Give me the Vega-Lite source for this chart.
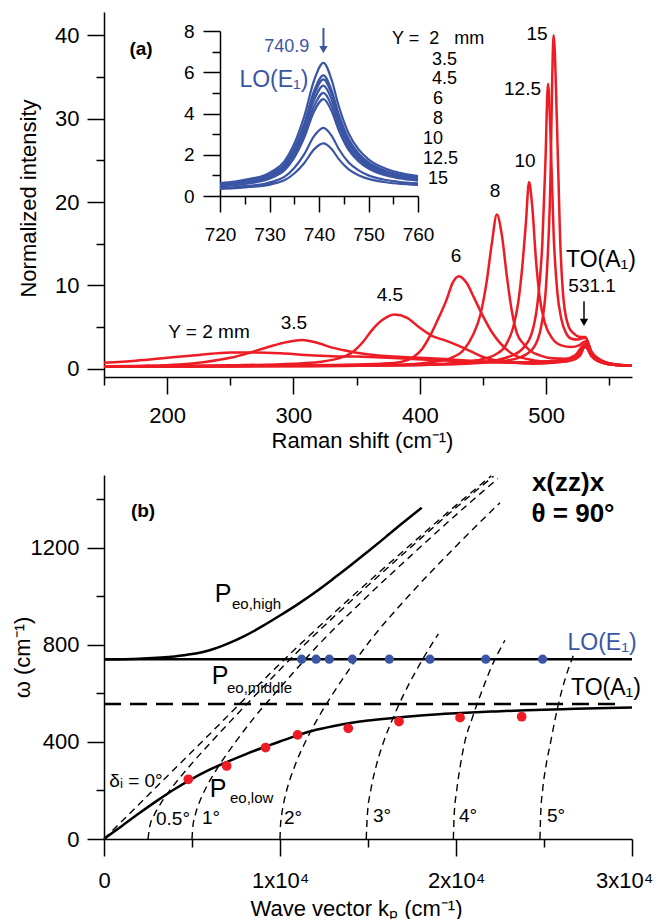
{
"$schema": "https://vega.github.io/schema/vega-lite/v6.json",
"padding": {"left": 11, "top": 12, "right": 0, "bottom": 0},
"spacing": 98,
"bounds": "flush",
"config": {
 "font": "Liberation Sans",
 "view": {"stroke": null},
 "axis": {"grid": false, "domainColor": "#000", "domainWidth": 1.5, "tickColor": "#000", "tickWidth": 1.5, "labelColor": "#000", "labelFont": "Liberation Sans", "labelFontSize": 22, "titleColor": "#000", "titleFont": "Liberation Sans", "titleFontSize": 22, "titleFontWeight": "normal", "labelOverlap": false, "labelFlush": false, "labelBound": false},
 "text": {"color": "#000"}
},
"datasets": {
 "red": [
  {"curve":"2","x":150,"y":0.7},{"curve":"2","x":175,"y":0.95},{"curve":"2","x":200,"y":1.3},{"curve":"2","x":225,"y":1.65},{"curve":"2","x":250,"y":1.95},{"curve":"2","x":270,"y":1.95},{"curve":"2","x":290,"y":1.85},{"curve":"2","x":310,"y":1.65},{"curve":"2","x":330,"y":1.5},{"curve":"2","x":350,"y":1.45},{"curve":"2","x":370,"y":1.35},{"curve":"2","x":390,"y":1.2},{"curve":"2","x":410,"y":1.05},{"curve":"2","x":430,"y":0.9},{"curve":"2","x":450,"y":0.8},{"curve":"2","x":470,"y":0.75},{"curve":"2","x":490,"y":0.8},{"curve":"2","x":510,"y":1.0},{"curve":"2","x":520,"y":1.3},{"curve":"2","x":526,"y":1.8},{"curve":"2","x":531,"y":2.6},{"curve":"2","x":536,"y":1.5},{"curve":"2","x":545,"y":0.8},{"curve":"2","x":555,"y":0.5},{"curve":"2","x":568,"y":0.4},
  {"curve":"3.5","x":150,"y":0.3},{"curve":"3.5","x":180,"y":0.35},{"curve":"3.5","x":210,"y":0.5},{"curve":"3.5","x":230,"y":0.8},{"curve":"3.5","x":250,"y":1.3},{"curve":"3.5","x":265,"y":1.9},{"curve":"3.5","x":280,"y":2.6},{"curve":"3.5","x":295,"y":3.2},{"curve":"3.5","x":307,"y":3.45},{"curve":"3.5","x":320,"y":3.05},{"curve":"3.5","x":330,"y":2.55},{"curve":"3.5","x":340,"y":2.2},{"curve":"3.5","x":350,"y":1.9},{"curve":"3.5","x":365,"y":1.6},{"curve":"3.5","x":380,"y":1.45},{"curve":"3.5","x":400,"y":1.3},{"curve":"3.5","x":420,"y":1.15},{"curve":"3.5","x":440,"y":0.95},{"curve":"3.5","x":460,"y":0.8},{"curve":"3.5","x":480,"y":0.7},{"curve":"3.5","x":500,"y":0.75},{"curve":"3.5","x":515,"y":0.9},{"curve":"3.5","x":524,"y":1.3},{"curve":"3.5","x":531,"y":2.7},{"curve":"3.5","x":537,"y":1.4},{"curve":"3.5","x":545,"y":0.7},{"curve":"3.5","x":555,"y":0.45},{"curve":"3.5","x":568,"y":0.35},
  {"curve":"4.5","x":150,"y":0.25},{"curve":"4.5","x":200,"y":0.3},{"curve":"4.5","x":250,"y":0.4},{"curve":"4.5","x":300,"y":0.6},{"curve":"4.5","x":320,"y":0.8},{"curve":"4.5","x":335,"y":1.2},{"curve":"4.5","x":345,"y":1.8},{"curve":"4.5","x":355,"y":3.2},{"curve":"4.5","x":362,"y":4.6},{"curve":"4.5","x":370,"y":5.8},{"curve":"4.5","x":380,"y":6.5},{"curve":"4.5","x":390,"y":6.1},{"curve":"4.5","x":400,"y":4.9},{"curve":"4.5","x":410,"y":3.9},{"curve":"4.5","x":420,"y":3.4},{"curve":"4.5","x":430,"y":2.8},{"curve":"4.5","x":440,"y":2.1},{"curve":"4.5","x":450,"y":1.4},{"curve":"4.5","x":460,"y":1.0},{"curve":"4.5","x":475,"y":0.7},{"curve":"4.5","x":490,"y":0.6},{"curve":"4.5","x":505,"y":0.7},{"curve":"4.5","x":520,"y":1.0},{"curve":"4.5","x":527,"y":1.6},{"curve":"4.5","x":531,"y":2.8},{"curve":"4.5","x":536,"y":1.5},{"curve":"4.5","x":545,"y":0.7},{"curve":"4.5","x":555,"y":0.45},{"curve":"4.5","x":568,"y":0.35},
  {"curve":"6","x":150,"y":0.25},{"curve":"6","x":250,"y":0.3},{"curve":"6","x":330,"y":0.45},{"curve":"6","x":370,"y":0.6},{"curve":"6","x":385,"y":0.8},{"curve":"6","x":395,"y":1.4},{"curve":"6","x":402,"y":2.4},{"curve":"6","x":408,"y":3.9},{"curve":"6","x":414,"y":5.8},{"curve":"6","x":421,"y":8.2},{"curve":"6","x":426,"y":10.3},{"curve":"6","x":431,"y":11.1},{"curve":"6","x":437,"y":10.3},{"curve":"6","x":443,"y":8.5},{"curve":"6","x":450,"y":6.3},{"curve":"6","x":457,"y":4.4},{"curve":"6","x":464,"y":3.0},{"curve":"6","x":474,"y":1.7},{"curve":"6","x":487,"y":1.1},{"curve":"6","x":500,"y":0.85},{"curve":"6","x":515,"y":0.9},{"curve":"6","x":524,"y":1.4},{"curve":"6","x":531,"y":2.9},{"curve":"6","x":536,"y":1.5},{"curve":"6","x":545,"y":0.7},{"curve":"6","x":555,"y":0.45},{"curve":"6","x":568,"y":0.35},
  {"curve":"8","x":150,"y":0.25},{"curve":"8","x":300,"y":0.3},{"curve":"8","x":380,"y":0.45},{"curve":"8","x":410,"y":0.8},{"curve":"8","x":425,"y":1.3},{"curve":"8","x":435,"y":2.3},{"curve":"8","x":442,"y":4.0},{"curve":"8","x":448,"y":6.5},{"curve":"8","x":453,"y":10.5},{"curve":"8","x":457,"y":15},{"curve":"8","x":461,"y":18.5},{"curve":"8","x":465,"y":16},{"curve":"8","x":469,"y":11},{"curve":"8","x":473,"y":6.8},{"curve":"8","x":477,"y":4.2},{"curve":"8","x":482,"y":3.0},{"curve":"8","x":487,"y":2.2},{"curve":"8","x":495,"y":1.6},{"curve":"8","x":505,"y":1.25},{"curve":"8","x":515,"y":1.2},{"curve":"8","x":523,"y":1.6},{"curve":"8","x":531,"y":3.0},{"curve":"8","x":536,"y":1.6},{"curve":"8","x":545,"y":0.7},{"curve":"8","x":555,"y":0.45},{"curve":"8","x":568,"y":0.35},
  {"curve":"10","x":150,"y":0.25},{"curve":"10","x":350,"y":0.35},{"curve":"10","x":420,"y":0.6},{"curve":"10","x":445,"y":1.0},{"curve":"10","x":460,"y":1.7},{"curve":"10","x":468,"y":2.8},{"curve":"10","x":474,"y":5},{"curve":"10","x":478,"y":8},{"curve":"10","x":481,"y":12},{"curve":"10","x":484,"y":17.5},{"curve":"10","x":486.5,"y":22.4},{"curve":"10","x":489,"y":19.5},{"curve":"10","x":492,"y":13},{"curve":"10","x":495,"y":8.5},{"curve":"10","x":499,"y":5.5},{"curve":"10","x":505,"y":3.6},{"curve":"10","x":512,"y":2.8},{"curve":"10","x":520,"y":2.6},{"curve":"10","x":526,"y":2.8},{"curve":"10","x":531,"y":3.3},{"curve":"10","x":536,"y":1.8},{"curve":"10","x":545,"y":0.8},{"curve":"10","x":555,"y":0.5},{"curve":"10","x":568,"y":0.35},
  {"curve":"12.5","x":150,"y":0.25},{"curve":"12.5","x":400,"y":0.45},{"curve":"12.5","x":450,"y":0.8},{"curve":"12.5","x":470,"y":1.4},{"curve":"12.5","x":482,"y":2.5},{"curve":"12.5","x":490,"y":5},{"curve":"12.5","x":494,"y":9},{"curve":"12.5","x":497,"y":15},{"curve":"12.5","x":499.5,"y":25},{"curve":"12.5","x":501.5,"y":34.2},{"curve":"12.5","x":503.5,"y":28},{"curve":"12.5","x":506,"y":16},{"curve":"12.5","x":509,"y":9},{"curve":"12.5","x":512,"y":6},{"curve":"12.5","x":516,"y":4.2},{"curve":"12.5","x":520,"y":3.6},{"curve":"12.5","x":525,"y":3.5},{"curve":"12.5","x":531,"y":3.7},{"curve":"12.5","x":536,"y":2.0},{"curve":"12.5","x":545,"y":0.9},{"curve":"12.5","x":555,"y":0.5},{"curve":"12.5","x":568,"y":0.35},
  {"curve":"15","x":150,"y":0.25},{"curve":"15","x":400,"y":0.45},{"curve":"15","x":460,"y":0.8},{"curve":"15","x":480,"y":1.4},{"curve":"15","x":490,"y":2.5},{"curve":"15","x":496,"y":5},{"curve":"15","x":500,"y":10},{"curve":"15","x":503,"y":20},{"curve":"15","x":506,"y":40},{"curve":"15","x":508.5,"y":30},{"curve":"15","x":511,"y":16},{"curve":"15","x":514,"y":8},{"curve":"15","x":518,"y":5},{"curve":"15","x":522,"y":4.2},{"curve":"15","x":527,"y":3.8},{"curve":"15","x":531,"y":3.8},{"curve":"15","x":536,"y":2.0},{"curve":"15","x":545,"y":0.9},{"curve":"15","x":555,"y":0.5},{"curve":"15","x":568,"y":0.35}
 ],
 "blue": [
  {"curve":"2","x":720,"y":0.63},{"curve":"2","x":723,"y":0.70},{"curve":"2","x":726,"y":0.83},{"curve":"2","x":729,"y":1.01},{"curve":"2","x":731,"y":1.26},{"curve":"2","x":733,"y":1.68},{"curve":"2","x":735,"y":2.53},{"curve":"2","x":737,"y":3.85},{"curve":"2","x":739,"y":5.6},{"curve":"2","x":740.9,"y":6.45},{"curve":"2","x":742.5,"y":5.67},{"curve":"2","x":744,"y":4.35},{"curve":"2","x":746,"y":3.03},{"curve":"2","x":748,"y":2.26},{"curve":"2","x":750,"y":1.78},{"curve":"2","x":753,"y":1.37},{"curve":"2","x":756,"y":1.14},{"curve":"2","x":760,"y":0.97},
  {"curve":"3.5","x":720,"y":0.58},{"curve":"3.5","x":723,"y":0.65},{"curve":"3.5","x":726,"y":0.77},{"curve":"3.5","x":729,"y":0.93},{"curve":"3.5","x":731,"y":1.16},{"curve":"3.5","x":733,"y":1.54},{"curve":"3.5","x":735,"y":2.31},{"curve":"3.5","x":737,"y":3.5},{"curve":"3.5","x":739,"y":5.09},{"curve":"3.5","x":740.9,"y":5.85},{"curve":"3.5","x":742.5,"y":5.15},{"curve":"3.5","x":744,"y":3.96},{"curve":"3.5","x":746,"y":2.76},{"curve":"3.5","x":748,"y":2.06},{"curve":"3.5","x":750,"y":1.63},{"curve":"3.5","x":753,"y":1.26},{"curve":"3.5","x":756,"y":1.05},{"curve":"3.5","x":760,"y":0.9},
  {"curve":"4.5","x":720,"y":0.56},{"curve":"4.5","x":723,"y":0.62},{"curve":"4.5","x":726,"y":0.74},{"curve":"4.5","x":729,"y":0.89},{"curve":"4.5","x":731,"y":1.11},{"curve":"4.5","x":733,"y":1.48},{"curve":"4.5","x":735,"y":2.23},{"curve":"4.5","x":737,"y":3.38},{"curve":"4.5","x":739,"y":4.91},{"curve":"4.5","x":740.9,"y":5.65},{"curve":"4.5","x":742.5,"y":4.98},{"curve":"4.5","x":744,"y":3.82},{"curve":"4.5","x":746,"y":2.66},{"curve":"4.5","x":748,"y":1.99},{"curve":"4.5","x":750,"y":1.57},{"curve":"4.5","x":753,"y":1.22},{"curve":"4.5","x":756,"y":1.02},{"curve":"4.5","x":760,"y":0.87},
  {"curve":"6","x":720,"y":0.53},{"curve":"6","x":723,"y":0.59},{"curve":"6","x":726,"y":0.7},{"curve":"6","x":729,"y":0.85},{"curve":"6","x":731,"y":1.06},{"curve":"6","x":733,"y":1.4},{"curve":"6","x":735,"y":2.11},{"curve":"6","x":737,"y":3.2},{"curve":"6","x":739,"y":4.65},{"curve":"6","x":740.9,"y":5.35},{"curve":"6","x":742.5,"y":4.71},{"curve":"6","x":744,"y":3.62},{"curve":"6","x":746,"y":2.53},{"curve":"6","x":748,"y":1.89},{"curve":"6","x":750,"y":1.49},{"curve":"6","x":753,"y":1.16},{"curve":"6","x":756,"y":0.97},{"curve":"6","x":760,"y":0.83},
  {"curve":"8","x":720,"y":0.5},{"curve":"8","x":723,"y":0.56},{"curve":"8","x":726,"y":0.66},{"curve":"8","x":729,"y":0.8},{"curve":"8","x":731,"y":0.99},{"curve":"8","x":733,"y":1.32},{"curve":"8","x":735,"y":1.98},{"curve":"8","x":737,"y":3.0},{"curve":"8","x":739,"y":4.35},{"curve":"8","x":740.9,"y":5.0},{"curve":"8","x":742.5,"y":4.41},{"curve":"8","x":744,"y":3.39},{"curve":"8","x":746,"y":2.37},{"curve":"8","x":748,"y":1.78},{"curve":"8","x":750,"y":1.4},{"curve":"8","x":753,"y":1.09},{"curve":"8","x":756,"y":0.91},{"curve":"8","x":760,"y":0.78},
  {"curve":"10","x":720,"y":0.47},{"curve":"10","x":723,"y":0.52},{"curve":"10","x":726,"y":0.62},{"curve":"10","x":729,"y":0.75},{"curve":"10","x":731,"y":0.94},{"curve":"10","x":733,"y":1.24},{"curve":"10","x":735,"y":1.86},{"curve":"10","x":737,"y":2.82},{"curve":"10","x":739,"y":4.1},{"curve":"10","x":740.9,"y":4.7},{"curve":"10","x":742.5,"y":4.15},{"curve":"10","x":744,"y":3.19},{"curve":"10","x":746,"y":2.23},{"curve":"10","x":748,"y":1.67},{"curve":"10","x":750,"y":1.33},{"curve":"10","x":753,"y":1.03},{"curve":"10","x":756,"y":0.87},{"curve":"10","x":760,"y":0.75},
  {"curve":"12.5","x":720,"y":0.39},{"curve":"12.5","x":723,"y":0.43},{"curve":"12.5","x":726,"y":0.5},{"curve":"12.5","x":729,"y":0.59},{"curve":"12.5","x":731,"y":0.72},{"curve":"12.5","x":733,"y":0.93},{"curve":"12.5","x":735,"y":1.36},{"curve":"12.5","x":737,"y":2.02},{"curve":"12.5","x":739,"y":2.9},{"curve":"12.5","x":740.9,"y":3.3},{"curve":"12.5","x":742.5,"y":2.94},{"curve":"12.5","x":744,"y":2.28},{"curve":"12.5","x":746,"y":1.62},{"curve":"12.5","x":748,"y":1.24},{"curve":"12.5","x":750,"y":1.0},{"curve":"12.5","x":753,"y":0.8},{"curve":"12.5","x":756,"y":0.69},{"curve":"12.5","x":760,"y":0.61},
  {"curve":"15","x":720,"y":0.35},{"curve":"15","x":723,"y":0.38},{"curve":"15","x":726,"y":0.44},{"curve":"15","x":729,"y":0.5},{"curve":"15","x":731,"y":0.61},{"curve":"15","x":733,"y":0.76},{"curve":"15","x":735,"y":1.09},{"curve":"15","x":737,"y":1.59},{"curve":"15","x":739,"y":2.26},{"curve":"15","x":740.9,"y":2.55},{"curve":"15","x":742.5,"y":2.29},{"curve":"15","x":744,"y":1.79},{"curve":"15","x":746,"y":1.29},{"curve":"15","x":748,"y":1.01},{"curve":"15","x":750,"y":0.83},{"curve":"15","x":753,"y":0.68},{"curve":"15","x":756,"y":0.6},{"curve":"15","x":760,"y":0.54}
 ],
 "solid": [
  {"curve":"high","k":0,"w":740},{"curve":"high","k":2000,"w":743},{"curve":"high","k":4000,"w":752},{"curve":"high","k":5000,"w":762},{"curve":"high","k":6000,"w":778},{"curve":"high","k":7000,"w":804},{"curve":"high","k":8000,"w":837},{"curve":"high","k":9000,"w":877},{"curve":"high","k":10000,"w":921},{"curve":"high","k":11000,"w":967},{"curve":"high","k":12000,"w":1017},{"curve":"high","k":13000,"w":1071},{"curve":"high","k":14000,"w":1127},{"curve":"high","k":15000,"w":1185},{"curve":"high","k":16000,"w":1244},{"curve":"high","k":17000,"w":1304},{"curve":"high","k":18050,"w":1365},
  {"curve":"low","k":0,"w":0},{"curve":"low","k":1000,"w":53},{"curve":"low","k":2000,"w":106},{"curve":"low","k":3000,"w":157},{"curve":"low","k":4000,"w":205},{"curve":"low","k":5000,"w":248},{"curve":"low","k":6000,"w":286},{"curve":"low","k":7000,"w":318},{"curve":"low","k":8000,"w":348},{"curve":"low","k":9000,"w":376},{"curve":"low","k":10000,"w":402},{"curve":"low","k":11000,"w":427},{"curve":"low","k":12000,"w":449},{"curve":"low","k":13000,"w":465},{"curve":"low","k":14000,"w":478},{"curve":"low","k":15000,"w":488},{"curve":"low","k":16000,"w":496},{"curve":"low","k":17000,"w":503},{"curve":"low","k":18000,"w":509},{"curve":"low","k":20000,"w":518},{"curve":"low","k":22000,"w":525},{"curve":"low","k":24000,"w":531},{"curve":"low","k":26000,"w":535},{"curve":"low","k":28000,"w":539},{"curve":"low","k":30000,"w":542},
  {"curve":"LO","k":0,"w":741},{"curve":"LO","k":30000,"w":741}
 ],
 "to": [{"k":0,"w":556},{"k":29500,"w":556}],
 "dashed": [
  {"curve":"0","k":0,"w":0},{"curve":"0","k":5556,"w":400},{"curve":"0","k":11111,"w":800},{"curve":"0","k":14104,"w":1000},{"curve":"0","k":17217,"w":1200},{"curve":"0","k":20408,"w":1400},{"curve":"0","k":22010,"w":1497},
  {"curve":"0.5","k":2500,"w":0},{"curve":"0.5","k":2595,"w":50},{"curve":"0.5","k":2860,"w":100},{"curve":"0.5","k":3254,"w":150},{"curve":"0.5","k":3737,"w":200},{"curve":"0.5","k":4859,"w":300},{"curve":"0.5","k":6093,"w":400},{"curve":"0.5","k":7380,"w":500},{"curve":"0.5","k":8700,"w":600},{"curve":"0.5","k":11390,"w":800},{"curve":"0.5","k":14324,"w":1000},{"curve":"0.5","k":17397,"w":1200},{"curve":"0.5","k":20560,"w":1400},{"curve":"0.5","k":22132,"w":1495},
  {"curve":"1","k":5000,"w":0},{"curve":"1","k":5048,"w":50},{"curve":"1","k":5189,"w":100},{"curve":"1","k":5416,"w":150},{"curve":"1","k":5720,"w":200},{"curve":"1","k":6516,"w":300},{"curve":"1","k":7474,"w":400},{"curve":"1","k":8529,"w":500},{"curve":"1","k":9721,"w":600},{"curve":"1","k":12186,"w":800},{"curve":"1","k":14964,"w":1000},{"curve":"1","k":17927,"w":1200},{"curve":"1","k":21012,"w":1400},{"curve":"1","k":22376,"w":1485},
  {"curve":"2","k":10000,"w":0},{"curve":"2","k":10024,"w":50},{"curve":"2","k":10096,"w":100},{"curve":"2","k":10214,"w":150},{"curve":"2","k":10379,"w":200},{"curve":"2","k":10834,"w":300},{"curve":"2","k":11440,"w":400},{"curve":"2","k":12174,"w":500},{"curve":"2","k":13017,"w":600},{"curve":"2","k":13944,"w":700},{"curve":"2","k":14937,"w":800},{"curve":"2","k":17289,"w":1000},{"curve":"2","k":19910,"w":1200},{"curve":"2","k":22500,"w":1386},
  {"curve":"3","k":14900,"w":0},{"curve":"3","k":14964,"w":100},{"curve":"3","k":15155,"w":200},{"curve":"3","k":15462,"w":300},{"curve":"3","k":15886,"w":400},{"curve":"3","k":16432,"w":500},{"curve":"3","k":17059,"w":600},{"curve":"3","k":17786,"w":700},{"curve":"3","k":18599,"w":800},{"curve":"3","k":19000,"w":845},
  {"curve":"4","k":19850,"w":0},{"curve":"4","k":19898,"w":100},{"curve":"4","k":20040,"w":200},{"curve":"4","k":20240,"w":300},{"curve":"4","k":20500,"w":400},{"curve":"4","k":20930,"w":500},{"curve":"4","k":21420,"w":600},{"curve":"4","k":21960,"w":700},{"curve":"4","k":22780,"w":819},
  {"curve":"5","k":24770,"w":0},{"curve":"5","k":24810,"w":100},{"curve":"5","k":24920,"w":200},{"curve":"5","k":25110,"w":300},{"curve":"5","k":25380,"w":400},{"curve":"5","k":25650,"w":500},{"curve":"5","k":25970,"w":600},{"curve":"5","k":26380,"w":700},{"curve":"5","k":26660,"w":755}
 ],
 "reddots": [{"k":4790,"w":246},{"k":6970,"w":301},{"k":9180,"w":377},{"k":11000,"w":429},{"k":13880,"w":456},{"k":16760,"w":484},{"k":20230,"w":500},{"k":23730,"w":504}],
 "bluedots": [{"k":11230,"w":741},{"k":12050,"w":741},{"k":12800,"w":741},{"k":14110,"w":741},{"k":16210,"w":741},{"k":18520,"w":741},{"k":21690,"w":741},{"k":24920,"w":741}]
},
"vconcat": [
 {
  "width": 528, "height": 365,
  "resolve": {"scale": {"x": "independent", "y": "independent"}, "axis": {"x": "independent", "y": "independent"}},
  "layer": [
   {
    "layer": [
     {
      "data": {"name": "red"},
      "mark": {"type": "line", "color": "#ed1c24", "strokeWidth": 2.5, "interpolate": "monotone"},
      "encoding": {
       "x": {"field": "x", "type": "quantitative", "scale": {"domain": [150, 568], "nice": false, "zero": false},
        "axis": {"title": "Raman shift (cm⁻¹)", "values": [150,200,250,300,350,400,450,500,550], "labelExpr": "datum.value % 100 === 0 ? datum.label : ''", "tickSize": {"condition": {"test": "datum.value % 100 === 0", "value": 17}, "value": 8}, "labelPadding": 11, "titleX": 258, "titleY": 63, "titleBaseline": "middle", "titleAlign": "center"}},
       "y": {"field": "y", "type": "quantitative", "scale": {"domain": [-1, 42.8], "nice": false, "zero": false},
        "axis": {"title": "Normalized intensity", "values": [0,5,10,15,20,25,30,35,40], "labelExpr": "datum.value % 10 === 0 ? datum.label : ''", "tickSize": {"condition": {"test": "datum.value % 10 === 0", "value": 17}, "value": 8}, "labelPadding": 8, "titleX": -76, "titleY": 186, "titleBaseline": "middle", "titleAlign": "center", "titleAngle": -90}},
       "detail": {"field": "curve"}
      }
     },
     {
      "data": {"values": [{"x":233.1,"y":4.46,"t":"Y = 2 mm"},{"x":300.4,"y":5.5,"t":"3.5"},{"x":376.4,"y":8.9,"t":"4.5"},{"x":428.7,"y":13.5,"t":"6"},{"x":459.6,"y":21.3,"t":"8"},{"x":483.3,"y":24.9,"t":"10"},{"x":481.3,"y":33.6,"t":"12.5"},{"x":492.8,"y":40.2,"t":"15"},{"x":536.4,"y":9.9,"t":"531.1"}]},
      "mark": {"type": "text", "fontSize": 19},
      "encoding": {"x": {"field": "x", "type": "quantitative"}, "y": {"field": "y", "type": "quantitative"}, "text": {"field": "t"}}
     },
     {
      "data": {"values": [{"x":543.5,"y":13.1,"t":"TO(A₁)"}]},
      "mark": {"type": "text", "fontSize": 23},
      "encoding": {"x": {"field": "x", "type": "quantitative"}, "y": {"field": "y", "type": "quantitative"}, "text": {"field": "t"}}
     },
     {
      "data": {"values": [{"x":378.0,"y":39.6,"t":"Y =\u00a0\u00a02\u00a0\u00a0\u00a0mm"},{"x":409.7,"y":37.0,"t":"3.5"},{"x":409.7,"y":34.8,"t":"4.5"},{"x":410.5,"y":32.4,"t":"6"},{"x":410.5,"y":30.0,"t":"8"},{"x":402.6,"y":27.6,"t":"10"},{"x":402.6,"y":25.2,"t":"12.5"},{"x":406.5,"y":22.8,"t":"15"}]},
      "mark": {"type": "text", "fontSize": 18, "align": "left"},
      "encoding": {"x": {"field": "x", "type": "quantitative"}, "y": {"field": "y", "type": "quantitative"}, "text": {"field": "t"}}
     },
     {
      "data": {"values": [{"x":179.3,"y":38.4,"t":"(a)"}]},
      "mark": {"type": "text", "fontSize": 19, "fontWeight": "bold"},
      "encoding": {"x": {"field": "x", "type": "quantitative"}, "y": {"field": "y", "type": "quantitative"}, "text": {"field": "t"}}
     },
     {
      "data": {"values": [{"x":530,"y":8.1,"y2":5.6}]},
      "mark": {"type": "rule", "color": "#000", "strokeWidth": 1.5},
      "encoding": {"x": {"field": "x", "type": "quantitative"}, "y": {"field": "y", "type": "quantitative"}, "y2": {"field": "y2"}}
     },
     {
      "data": {"values": [{"x":530,"y":5.55}]},
      "mark": {"type": "point", "shape": "triangle-down", "filled": true, "color": "#000", "size": 70, "opacity": 1},
      "encoding": {"x": {"field": "x", "type": "quantitative"}, "y": {"field": "y", "type": "quantitative"}}
     }
    ]
   },
   {
    "layer": [
     {
      "data": {"name": "blue"},
      "mark": {"type": "line", "color": "#3b55a5", "strokeWidth": 2.2, "interpolate": "monotone"},
      "encoding": {
       "x": {"field": "x", "type": "quantitative", "scale": {"domain": [720, 760], "range": [116, 314], "nice": false, "zero": false},
        "axis": {"orient": "bottom", "offset": -181, "title": null, "values": [720,725,730,735,740,745,750,755,760], "labelExpr": "datum.value % 10 === 0 ? datum.label : ''", "tickSize": {"condition": {"test": "datum.value % 10 === 0", "value": 16}, "value": 8}, "labelPadding": 13, "labelFontSize": 19}},
       "y": {"field": "y", "type": "quantitative", "scale": {"domain": [0, 8], "range": [184, 19], "nice": false, "zero": false},
        "axis": {"orient": "left", "offset": -116, "title": null, "values": [0,1,2,3,4,5,6,7,8], "labelExpr": "datum.value % 2 === 0 ? datum.label : ''", "tickSize": {"condition": {"test": "datum.value % 2 === 0", "value": 17}, "value": 8}, "labelPadding": 9, "labelFontSize": 19}},
       "detail": {"field": "curve"}
      }
     },
     {
      "data": {"values": [{"x":733.5,"y":7.23,"t":"740.9"}]},
      "mark": {"type": "text", "fontSize": 18, "color": "#3b55a5"},
      "encoding": {"x": {"field": "x", "type": "quantitative"}, "y": {"field": "y", "type": "quantitative"}, "text": {"field": "t"}}
     },
     {
      "data": {"values": [{"x":730.9,"y":5.63,"t":"LO(E₁)"}]},
      "mark": {"type": "text", "fontSize": 23, "color": "#3b55a5"},
      "encoding": {"x": {"field": "x", "type": "quantitative"}, "y": {"field": "y", "type": "quantitative"}, "text": {"field": "t"}}
     },
     {
      "data": {"values": [{"x":740.9,"y":8.15,"y2":7.2}]},
      "mark": {"type": "rule", "color": "#3b55a5", "strokeWidth": 2},
      "encoding": {"x": {"field": "x", "type": "quantitative"}, "y": {"field": "y", "type": "quantitative"}, "y2": {"field": "y2"}}
     },
     {
      "data": {"values": [{"x":740.9,"y":7.1}]},
      "mark": {"type": "point", "shape": "triangle-down", "filled": true, "color": "#3b55a5", "size": 70, "opacity": 1},
      "encoding": {"x": {"field": "x", "type": "quantitative"}, "y": {"field": "y", "type": "quantitative"}}
     }
    ]
   }
  ]
 },
 {
  "width": 528, "height": 364,
  "layer": [
   {
    "data": {"name": "solid"},
    "mark": {"type": "line", "color": "#000", "strokeWidth": 2.5, "interpolate": "monotone"},
    "encoding": {
     "x": {"field": "k", "type": "quantitative", "scale": {"domain": [0, 30000], "nice": false, "zero": false},
      "axis": {"title": "Wave vector kₚ (cm⁻¹)", "values": [0,5000,10000,15000,20000,25000,30000], "labelExpr": "datum.value === 0 ? '0' : (datum.value % 10000 === 0 ? format(datum.value / 10000, 'd') + 'x10⁴' : '')", "tickSize": {"condition": {"test": "datum.value % 10000 === 0", "value": 17}, "value": 8}, "labelOffset": {"condition": {"test": "datum.value === 30000", "value": -8}, "value": 0}, "labelPadding": 14, "titleX": 252, "titleY": 69, "titleBaseline": "middle", "titleAlign": "center"}},
     "y": {"field": "w", "type": "quantitative", "scale": {"domain": [0, 1500], "nice": false, "zero": false},
      "axis": {"title": "ω (cm⁻¹)", "format": "d", "values": [0,200,400,600,800,1000,1200,1400], "labelExpr": "datum.value % 400 === 0 ? datum.label : ''", "tickSize": {"condition": {"test": "datum.value % 400 === 0", "value": 17}, "value": 8}, "labelPadding": 8, "titleX": -82, "titleY": 182, "titleBaseline": "middle", "titleAlign": "center", "titleAngle": -90}},
     "detail": {"field": "curve"}
    }
   },
   {
    "data": {"name": "to"},
    "mark": {"type": "line", "color": "#000", "strokeWidth": 2.5, "strokeDash": [17, 9]},
    "encoding": {"x": {"field": "k", "type": "quantitative"}, "y": {"field": "w", "type": "quantitative"}}
   },
   {
    "data": {"name": "dashed"},
    "mark": {"type": "line", "color": "#000", "strokeWidth": 1.4, "strokeDash": [7, 5], "interpolate": "monotone"},
    "encoding": {"x": {"field": "k", "type": "quantitative"}, "y": {"field": "w", "type": "quantitative"}, "detail": {"field": "curve"}}
   },
   {
    "data": {"name": "bluedots"},
    "mark": {"type": "circle", "color": "#3b55a5", "size": 85, "opacity": 1},
    "encoding": {"x": {"field": "k", "type": "quantitative"}, "y": {"field": "w", "type": "quantitative"}}
   },
   {
    "data": {"name": "reddots"},
    "mark": {"type": "circle", "color": "#ed1c24", "size": 95, "opacity": 1},
    "encoding": {"x": {"field": "k", "type": "quantitative"}, "y": {"field": "w", "type": "quantitative"}}
   },
   {
    "data": {"values": [{"k":6761,"w":1010,"t":"P"},{"k":6591,"w":672,"t":"P"},{"k":6477,"w":206,"t":"P"}]},
    "mark": {"type": "text", "fontSize": 25},
    "encoding": {"x": {"field": "k", "type": "quantitative"}, "y": {"field": "w", "type": "quantitative"}, "text": {"field": "t"}}
   },
   {
    "data": {"values": [{"k":7273,"w":969,"t":"eo,high"},{"k":6989,"w":623,"t":"eo,middle"},{"k":7159,"w":169,"t":"eo,low"}]},
    "mark": {"type": "text", "fontSize": 15, "align": "left"},
    "encoding": {"x": {"field": "k", "type": "quantitative"}, "y": {"field": "w", "type": "quantitative"}, "text": {"field": "t"}}
   },
   {
    "data": {"values": [{"k":2216,"w":1353,"t":"(b)"}]},
    "mark": {"type": "text", "fontSize": 19, "fontWeight": "bold"},
    "encoding": {"x": {"field": "k", "type": "quantitative"}, "y": {"field": "w", "type": "quantitative"}, "text": {"field": "t"}}
   },
   {
    "data": {"values": [{"k":26364,"w":1468,"t":"x(zz)x"},{"k":26648,"w":1340,"t":"θ = 90°"}]},
    "mark": {"type": "text", "fontSize": 26, "fontWeight": "bold"},
    "encoding": {"x": {"field": "k", "type": "quantitative"}, "y": {"field": "w", "type": "quantitative"}, "text": {"field": "t"}}
   },
   {
    "data": {"values": [{"k":1818,"w":239,"t":"δᵢ = 0°"},{"k":3920,"w":82,"t":"0.5°"},{"k":6080,"w":87,"t":"1°"},{"k":10739,"w":87,"t":"2°"},{"k":15795,"w":95,"t":"3°"},{"k":20682,"w":95,"t":"4°"},{"k":25682,"w":95,"t":"5°"}]},
    "mark": {"type": "text", "fontSize": 19},
    "encoding": {"x": {"field": "k", "type": "quantitative"}, "y": {"field": "w", "type": "quantitative"}, "text": {"field": "t"}}
   },
   {
    "data": {"values": [{"k":28295,"w":808,"t":"LO(E₁)"}]},
    "mark": {"type": "text", "fontSize": 23, "color": "#3b55a5"},
    "encoding": {"x": {"field": "k", "type": "quantitative"}, "y": {"field": "w", "type": "quantitative"}, "text": {"field": "t"}}
   },
   {
    "data": {"values": [{"k":28523,"w":623,"t":"TO(A₁)"}]},
    "mark": {"type": "text", "fontSize": 23},
    "encoding": {"x": {"field": "k", "type": "quantitative"}, "y": {"field": "w", "type": "quantitative"}, "text": {"field": "t"}}
   }
  ]
 }
]
}
